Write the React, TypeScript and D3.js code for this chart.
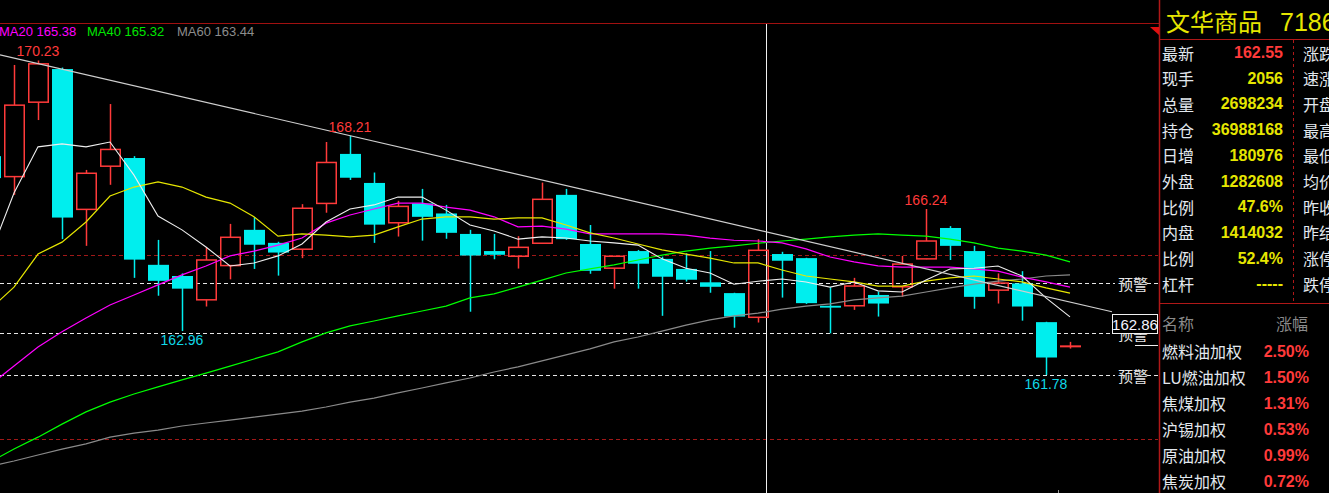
import React from 'react';
import * as d3 from 'd3';

// ---- Data ----
const opens = [167.66, 167.11, 169.11, 170.0, 166.23, 167.39, 167.61, 164.74, 164.44, 163.8, 164.72, 165.68, 165.33, 165.16, 166.39, 167.72, 166.94, 165.87, 166.39, 166.12, 165.57, 165.11, 164.97, 165.32, 166.62, 165.3, 164.65, 165.11, 164.9, 164.63, 164.27, 163.98, 163.33, 165.03, 164.92, 163.64, 163.64, 163.93, 164.15, 164.9, 165.73, 165.11, 164.06, 164.24, 163.2, 162.55];
const highs = [167.77, 170.11, 170.23, 170.04, 167.29, 169.06, 167.66, 165.41, 164.51, 165.21, 165.84, 166.02, 165.36, 166.37, 168.04, 168.21, 167.22, 166.46, 166.78, 166.35, 165.68, 165.57, 165.51, 166.95, 166.78, 165.81, 164.98, 165.14, 164.96, 165.05, 165.11, 163.99, 165.43, 165.09, 164.93, 164.14, 164.39, 164.02, 164.98, 166.24, 165.78, 165.25, 164.51, 164.57, 163.21, 162.67];
const lows = [166.97, 166.62, 168.63, 165.43, 165.25, 166.89, 164.39, 163.91, 162.96, 163.62, 164.35, 164.63, 164.45, 164.92, 166.14, 167.02, 165.33, 165.5, 165.39, 165.44, 163.48, 164.89, 164.64, 165.3, 165.41, 164.5, 164.1, 164.1, 163.37, 164.29, 163.99, 163.05, 163.19, 163.86, 163.69, 162.9, 163.53, 163.35, 163.88, 164.89, 164.87, 163.56, 163.7, 163.24, 161.78, 162.49];
const closes = [167.07, 169.03, 170.14, 166.01, 167.2, 167.84, 164.88, 164.31, 164.1, 164.87, 165.48, 165.28, 165.07, 166.26, 167.49, 167.08, 165.82, 166.31, 166.03, 165.6, 164.99, 165.01, 165.21, 166.5, 165.43, 164.58, 164.97, 164.77, 164.42, 164.34, 164.15, 163.35, 165.13, 164.85, 163.71, 163.59, 164.17, 163.7, 164.76, 165.38, 165.25, 163.88, 164.25, 163.62, 162.25, 162.55];

const ma5 = [165.0, 166.67, 167.91, 167.99, 167.91, 168.04, 167.15, 166.05, 165.68, 165.22, 164.71, 164.79, 164.98, 165.3, 165.89, 166.24, 166.35, 166.56, 166.56, 166.21, 165.81, 165.65, 165.43, 165.49, 165.46, 165.38, 165.33, 165.27, 164.9, 164.65, 164.52, 164.22, 164.3, 164.36, 164.28, 164.14, 164.28, 164.04, 164.01, 164.33, 164.63, 164.65, 164.71, 164.44, 163.85, 163.34];
const ma10 = [163.55, 164.14, 165.03, 165.35, 165.89, 166.59, 166.83, 166.97, 166.83, 166.56, 166.4, 166.03, 165.51, 165.57, 165.54, 165.49, 165.54, 165.76, 165.97, 166.03, 166.03, 165.97, 166.0, 166.0, 165.81, 165.6, 165.46, 165.3, 165.14, 165.03, 164.92, 164.79, 164.79, 164.6, 164.44, 164.36, 164.28, 164.17, 164.17, 164.3, 164.39, 164.44, 164.36, 164.28, 164.12, 163.98];
const ma20 = [161.51, 162.02, 162.53, 162.94, 163.31, 163.66, 163.93, 164.2, 164.47, 164.71, 164.98, 165.11, 165.27, 165.46, 165.86, 166.08, 166.24, 166.4, 166.4, 166.29, 166.21, 166.03, 165.76, 165.78, 165.7, 165.57, 165.57, 165.57, 165.57, 165.54, 165.46, 165.4, 165.38, 165.33, 165.17, 164.95, 164.82, 164.71, 164.68, 164.68, 164.68, 164.63, 164.57, 164.41, 164.28, 164.14];
const ma40 = [159.44, 159.79, 160.11, 160.46, 160.79, 161.05, 161.27, 161.46, 161.65, 161.83, 162.02, 162.21, 162.4, 162.67, 162.91, 163.1, 163.23, 163.37, 163.5, 163.63, 163.85, 163.96, 164.14, 164.33, 164.52, 164.63, 164.74, 164.87, 165.0, 165.11, 165.19, 165.25, 165.32, 165.38, 165.43, 165.49, 165.54, 165.57, 165.54, 165.51, 165.43, 165.33, 165.19, 165.11, 165.0, 164.82];
const ma60 = [159.33, 159.47, 159.63, 159.79, 159.93, 160.11, 160.22, 160.3, 160.41, 160.49, 160.57, 160.65, 160.73, 160.81, 160.92, 161.05, 161.16, 161.3, 161.43, 161.57, 161.7, 161.86, 162.0, 162.16, 162.32, 162.48, 162.67, 162.8, 162.96, 163.12, 163.26, 163.37, 163.44, 163.55, 163.63, 163.69, 163.8, 163.85, 163.9, 164.01, 164.12, 164.22, 164.3, 164.36, 164.44, 164.47];

const alertLevels = [164.24, 162.9, 161.78];
const guideLevels = [165.0, 160.05];
const trendAnchors = [{ i: 15, p: 168.21 }, { i: 45, p: 163.74 }];
const highMarks = [{ i: 2, p: 170.23 }, { i: 15, p: 168.21 }, { i: 39, p: 166.24 }];
const lowMarks = [{ i: 8, p: 162.96 }, { i: 44, p: 161.78 }];
const crossIndex = 32;
const cursorPrice = '162.86';

const infoLabels = ['最新', '现手', '总量', '持仓', '日增', '外盘', '比例', '内盘', '比例', '杠杆'];
const infoValues = ['162.55', '2056', '2698234', '36988168', '180976', '1282608', '47.6%', '1414032', '52.4%', '-----'];
const infoLabels2 = ['涨跌', '速涨', '开盘', '最高', '最低', '均价', '昨收', '昨结', '涨停', '跌停'];
const sectorNames = ['燃料油加权', 'LU燃油加权', '焦煤加权', '沪锡加权', '原油加权', '焦炭加权'];
const sectorChanges = ['2.50%', '1.50%', '1.31%', '0.53%', '0.99%', '0.72%'];

const RED = '#ff3a3a';
const CYAN = '#00eeee';
const CJK = '"Noto Sans CJK SC", "Noto Sans", sans-serif';
const ARIAL = '"Liberation Sans", Arial, sans-serif';

export default function App() {
  const W = 1329, H = 493;
  const chartRight = 1158;
  const x = d3.scaleLinear().domain([0, 45]).range([-10, 1070]);
  const y = d3.scaleLinear().domain([161.78, 166.24]).range([375, 209]);
  const idx = d3.range(opens.length);
  const line = (arr: number[]) =>
    d3.line<number>().x((_, i) => x(i)).y((d) => y(d))(arr) || '';

  // trend line through the anchors, extended from x=0 to the cursor box
  const tSlope = (trendAnchors[1].p - trendAnchors[0].p) / (trendAnchors[1].i - trendAnchors[0].i);
  const tAt = (px: number) => {
    const i = x.invert(px);
    return trendAnchors[0].p + tSlope * (i - trendAnchors[0].i);
  };
  const boxX0 = 1112;
  const crossX = x(crossIndex) + 8;

  const rowY = (k: number) => 52.5 + 25.7 * k;
  const secY = (k: number) => 351 + 26 * k;

  return (
    <div style={{ position: 'fixed', left: 0, top: 0, width: W, height: H, background: '#000', overflow: 'hidden' }}>
      <svg width={W} height={H} style={{ display: 'block', background: '#000' }}>
        <defs>
          <clipPath id="plot">
            <rect x={0} y={24} width={chartRight} height={H - 24} />
          </clipPath>
        </defs>

        {/* top border */}
        <line x1={0} x2={1159} y1={23.5} y2={23.5} stroke="#a01010" strokeWidth={1} />

        {/* legend */}
        <text x={-1} y={36} fontFamily={ARIAL} fontSize={13} fill="#ff00ff">{`MA20 ${ma20[crossIndex].toFixed(2)}`}</text>
        <text x={87} y={36} fontFamily={ARIAL} fontSize={13} fill="#00e600">{`MA40 ${ma40[crossIndex].toFixed(2)}`}</text>
        <text x={177} y={36} fontFamily={ARIAL} fontSize={13} fill="#8c8c8c">{`MA60 ${ma60[crossIndex].toFixed(2)}`}</text>

        <g clipPath="url(#plot)">
          {/* dark red guide lines */}
          {guideLevels.map((p, k) => (
            <line key={'g' + k} x1={0} x2={chartRight} y1={Math.round(y(p)) + 0.5} y2={Math.round(y(p)) + 0.5} stroke="#a01818" strokeWidth={1} strokeDasharray="4,3" />
          ))}
          {/* alert lines */}
          {alertLevels.map((p, k) => {
            const yy = Math.round(y(p)) + 0.5;
            return (
              <g key={'a' + k}>
                <line x1={0} x2={k === 1 ? boxX0 : 1115} y1={yy} y2={yy} stroke="#e6e6e6" strokeWidth={1} strokeDasharray="4,3" />
                {k !== 1 && <line x1={1147} x2={chartRight} y1={yy} y2={yy} stroke="#e6e6e6" strokeWidth={1} strokeDasharray="4,3" />}
                <text x={1118} y={yy} dominantBaseline="central" fontFamily={CJK} fontSize={15} fill="#e8e8e8">预警</text>
              </g>
            );
          })}

          {/* crosshair */}
          <line x1={Math.round(crossX) + 0.5} x2={Math.round(crossX) + 0.5} y1={24} y2={H} stroke="#f0f0f0" strokeWidth={1} />

          {/* candles */}
          {idx.map((i) => {
            const cx = Math.round(x(i));
            const up = closes[i] >= opens[i];
            const top = y(Math.max(opens[i], closes[i]));
            const bot = y(Math.min(opens[i], closes[i]));
            const hi = y(highs[i]);
            const lo = y(lows[i]);
            if (up) {
              if (bot - top < 1.5) {
                return (
                  <g key={i}>
                    <line x1={cx + 0.5} x2={cx + 0.5} y1={hi} y2={lo} stroke={RED} strokeWidth={1.5} />
                    <line x1={cx - 10} x2={cx + 11} y1={top} y2={top} stroke={RED} strokeWidth={2} />
                  </g>
                );
              }
              return (
                <g key={i}>
                  <line x1={cx + 0.5} x2={cx + 0.5} y1={hi} y2={top} stroke={RED} strokeWidth={1.5} />
                  <line x1={cx + 0.5} x2={cx + 0.5} y1={bot} y2={lo} stroke={RED} strokeWidth={1.5} />
                  <rect x={cx - 9.25} y={top} width={19.5} height={bot - top} fill="none" stroke={RED} strokeWidth={1.5} />
                </g>
              );
            }
            return (
              <g key={i}>
                <line x1={cx + 0.5} x2={cx + 0.5} y1={hi} y2={lo} stroke={CYAN} strokeWidth={1.5} />
                <rect x={cx - 10} y={top} width={21} height={Math.max(bot - top, 1.5)} fill={CYAN} />
              </g>
            );
          })}

          {/* moving averages */}
          <path d={line(ma60)} fill="none" stroke="#8a8a8a" strokeWidth={1.2} />
          <path d={line(ma40)} fill="none" stroke="#00ff00" strokeWidth={1.2} />
          <path d={line(ma20)} fill="none" stroke="#ff00ff" strokeWidth={1.2} />
          <path d={line(ma10)} fill="none" stroke="#e6e600" strokeWidth={1.2} />
          <path d={line(ma5)} fill="none" stroke="#eeeeee" strokeWidth={1.1} />

          {/* trend line */}
          <line x1={0} y1={y(tAt(0))} x2={boxX0} y2={y(tAt(boxX0))} stroke="#cfcfcf" strokeWidth={1.2} />

          {/* high / low labels */}
          {highMarks.map((m, k) => (
            <text key={'h' + k} x={x(m.i)} y={y(m.p) - 4} textAnchor="middle" fontFamily={ARIAL} fontSize={14} fill="#ff3a3a">{m.p.toFixed(2)}</text>
          ))}
          {lowMarks.map((m, k) => (
            <text key={'l' + k} x={x(m.i)} y={y(m.p) + 14} textAnchor="middle" fontFamily={ARIAL} fontSize={14} fill="#10d8e8">{m.p.toFixed(2)}</text>
          ))}

          {/* x tick */}
          <line x1={Math.round(x(44.5)) + 0.5} x2={Math.round(x(44.5)) + 0.5} y1={490} y2={H} stroke="#9a9a9a" strokeWidth={1} />
        </g>

        {/* cursor price box */}
        <line x1={1135} x2={chartRight} y1={345.5} y2={345.5} stroke="#eeeeee" strokeWidth={1} />
        <rect x={boxX0 + 0.5} y={314.5} width={45} height={19} fill="#000" stroke="#f0f0f0" strokeWidth={1} />
        <text x={boxX0 + 23} y={324.5} textAnchor="middle" dominantBaseline="central" fontFamily={ARIAL} fontSize={15} fill="#f4f4ff">{cursorPrice}</text>

        {/* right panel */}
        <line x1={1159.5} x2={1159.5} y1={0} y2={H} stroke="#b01818" strokeWidth={1.5} />
        <path d="M1150,27 L1159,27 L1159,35 Z" fill="#e01010" />
        <text x={1166} y={31} fontFamily={CJK} fontSize={24} fill="#e6e600">文华商品</text>
        <text x={1280} y={31} fontFamily={ARIAL} fontSize={25} fill="#e6e600">7186</text>
        <line x1={1159} x2={W} y1={39.5} y2={39.5} stroke="#b01818" strokeWidth={1} />
        <line x1={1293.5} x2={1293.5} y1={40} y2={303} stroke="#b01818" strokeWidth={1} strokeDasharray="3,3" />
        <line x1={1159} x2={W} y1={303.5} y2={303.5} stroke="#b01818" strokeWidth={1} />

        {infoLabels.map((t, k) => (
          <text key={'il' + k} x={1162} y={rowY(k)} dominantBaseline="central" fontFamily={CJK} fontSize={16} fill="#e2e8ee">{t}</text>
        ))}
        {infoValues.map((t, k) => (
          <text key={'iv' + k} x={1283} y={rowY(k)} dominantBaseline="central" textAnchor="end" fontFamily={ARIAL} fontWeight="bold" fontSize={16} fill={k === 0 ? '#ff3a3a' : '#e6e600'}>{t}</text>
        ))}
        {infoLabels2.map((t, k) => (
          <text key={'i2' + k} x={1303} y={rowY(k)} dominantBaseline="central" fontFamily={CJK} fontSize={16} fill="#e2e8ee">{t}</text>
        ))}

        <text x={1162} y={322.5} dominantBaseline="central" fontFamily={CJK} fontSize={16} fill="#8a8a8a">名称</text>
        <text x={1276} y={322.5} dominantBaseline="central" fontFamily={CJK} fontSize={16} fill="#8a8a8a">涨幅</text>
        {sectorNames.map((t, k) => (
          <text key={'sn' + k} x={1162} y={secY(k)} dominantBaseline="central" fontFamily={CJK} fontSize={16} fill="#e2e8ee">{t}</text>
        ))}
        {sectorChanges.map((t, k) => (
          <text key={'sc' + k} x={1309} y={secY(k)} dominantBaseline="central" textAnchor="end" fontFamily={ARIAL} fontWeight="bold" fontSize={16} fill="#ff3a3a">{t}</text>
        ))}
      </svg>
    </div>
  );
}
